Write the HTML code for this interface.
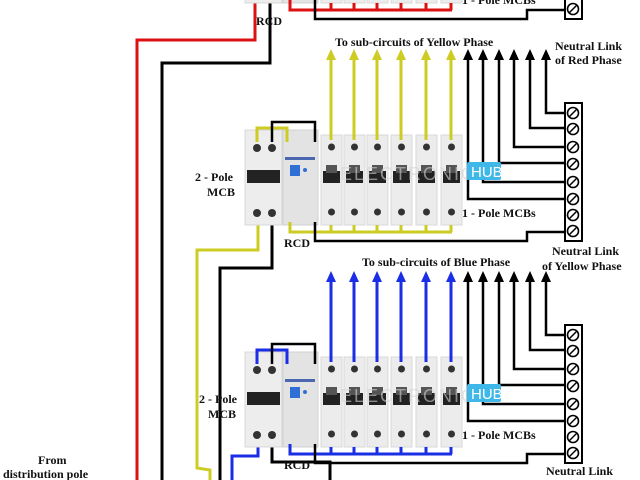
<!DOCTYPE html>
<html><head><meta charset="utf-8"><style>
html,body{margin:0;padding:0;background:#fff;}
svg{display:block}
text{font-family:"Liberation Serif",serif;font-weight:bold;font-size:12px;fill:#111}
</style></head><body>
<svg width="640" height="480" viewBox="0 0 640 480" xmlns="http://www.w3.org/2000/svg">
<defs>
<g id="mod1">
  <rect x="0" y="0" width="21" height="90" fill="#ececec" stroke="#d8d8d8"/>
  <circle cx="10.5" cy="12" r="3.5" fill="#333"/>
  <rect x="2" y="36" width="17" height="12" fill="#222"/>
  <rect x="5" y="30" width="11" height="8" fill="#555"/>
  <circle cx="10.5" cy="77" r="3.5" fill="#333"/>
</g>
<g id="sect">
  <rect x="245" y="130" width="37" height="95" fill="#ededed" stroke="#d8d8d8"/>
  <circle cx="257" cy="148" r="4" fill="#333"/><circle cx="272" cy="148" r="4" fill="#333"/>
  <rect x="247" y="170" width="33" height="13" fill="#222"/>
  <circle cx="257" cy="213" r="4" fill="#333"/><circle cx="272" cy="213" r="4" fill="#333"/>
  <rect x="283" y="130" width="35" height="95" fill="#e3e3e3" stroke="#d0d0d0"/>
  <rect x="285" y="157" width="30" height="3" fill="#4a67b0"/>
  <rect x="290" y="165" width="10" height="11" fill="#2f6fd6"/>
  <circle cx="305" cy="170" r="2" fill="#2f6fd6"/>
  <use href="#mod1" x="321" y="135"/><use href="#mod1" x="344" y="135"/>
  <use href="#mod1" x="367" y="135"/><use href="#mod1" x="391" y="135"/>
  <use href="#mod1" x="416" y="135"/><use href="#mod1" x="441" y="135"/>
  <g fill="none" stroke="currentColor" stroke-width="3">
    <polyline points="257,142 257,128 287,128 287,142"/>
    <polyline points="290,222 290,232 452,232"/>
    <path d="M331,225V232M354,225V232M377,225V232M401,225V232M426,225V232M451,225V232"/>
    <path d="M331,140V58M354,140V58M377,140V58M401,140V58M426,140V58M451,140V58"/>
  </g>
  <g fill="currentColor">
    <polygon points="326,60 331,49 336,60"/><polygon points="349,60 354,49 359,60"/>
    <polygon points="372,60 377,49 382,60"/><polygon points="396,60 401,49 406,60"/>
    <polygon points="421,60 426,49 431,60"/><polygon points="446,60 451,49 456,60"/>
  </g>
  <g fill="none" stroke="#000" stroke-width="2.5">
    <polyline points="272,142 272,122 315,122 315,142"/>
    <polyline points="315,222 315,241 527,241 527,232 567,232"/>
    <polyline points="546,58 546,113 567,113"/>
    <polyline points="530,58 530,128 567,128"/>
    <polyline points="514,58 514,147 567,147"/>
    <polyline points="499,58 499,163 567,163"/>
    <polyline points="483,58 483,182 567,182"/>
    <polyline points="468,58 468,199 567,199"/>
  </g>
  <g fill="#000">
    <polygon points="463,60 468,49 473,60"/><polygon points="478,60 483,49 488,60"/>
    <polygon points="494,60 499,49 504,60"/><polygon points="509,60 514,49 519,60"/>
    <polygon points="525,60 530,49 535,60"/><polygon points="541,60 546,49 551,60"/>
  </g>
  <rect x="565" y="103" width="17" height="138" fill="#fff" stroke="#000" stroke-width="2"/>
  <g fill="#fff" stroke="#000" stroke-width="1.6">
    <circle cx="573" cy="113" r="5.5"/><circle cx="573" cy="129" r="5.5"/>
    <circle cx="573" cy="147" r="5.5"/><circle cx="573" cy="164" r="5.5"/>
    <circle cx="573" cy="182" r="5.5"/><circle cx="573" cy="199" r="5.5"/>
    <circle cx="573" cy="215" r="5.5"/><circle cx="573" cy="231" r="5.5"/>
  </g>
  <path d="M569,117l8,-8M569,133l8,-8M569,151l8,-8M569,168l8,-8M569,186l8,-8M569,203l8,-8M569,219l8,-8M569,235l8,-8" stroke="#000" stroke-width="1.5"/>
  <text x="340" y="180" style="font-family:'Liberation Sans',sans-serif;font-weight:normal;font-size:18px;fill:#d4d4d4;letter-spacing:2px;opacity:.6">ELECTRONICS</text>
  <rect x="467" y="162" width="34" height="18" rx="2" fill="#3fb7e8"/>
  <text x="471" y="177" style="font-family:'Liberation Sans',sans-serif;font-weight:normal;font-size:15px;fill:#fff">HUB</text>
</g>
</defs>

<g fill="none" stroke-width="3">
  <polyline points="255,0 255,40 137,40 137,480" stroke="#d11"/>
  <polyline points="270,0 270,63 162,63 162,480" stroke="#000"/>
  <polyline points="258,222 258,250 197,250 197,468 210,470 210,480" stroke="#cccc22"/>
  <polyline points="272,222 272,268 220,268 220,480" stroke="#000"/>
  <polyline points="258,444 258,456 232,456 232,480" stroke="#1a2ee6"/>
  <polyline points="272,444 272,462 330,462 330,480" stroke="#000"/>
</g>

<use href="#sect" y="-222" style="color:#d11"/>
<use href="#sect" y="0" style="color:#cccc22"/>
<use href="#sect" y="222" style="color:#1a2ee6"/>

<text x="256" y="25">RCD</text>
<text x="462" y="4">1 - Pole MCBs</text>
<text x="335" y="46">To sub-circuits of Yellow Phase</text>
<text x="555" y="50">Neutral Link</text>
<text x="555" y="64">of Red Phase</text>

<text x="195" y="181">2 - Pole</text>
<text x="207" y="196">MCB</text>
<text x="284" y="247">RCD</text>
<text x="462" y="217">1 - Pole MCBs</text>
<text x="552" y="255">Neutral Link</text>
<text x="542" y="270">of Yellow Phase</text>
<text x="362" y="266">To sub-circuits of Blue Phase</text>

<text x="199" y="403">2 - Pole</text>
<text x="208" y="418">MCB</text>
<text x="284" y="469">RCD</text>
<text x="462" y="439">1 - Pole MCBs</text>
<text x="546" y="475">Neutral Link</text>
<text x="38" y="464">From</text>
<text x="3" y="478">distribution pole</text>
</svg>
</body></html>
